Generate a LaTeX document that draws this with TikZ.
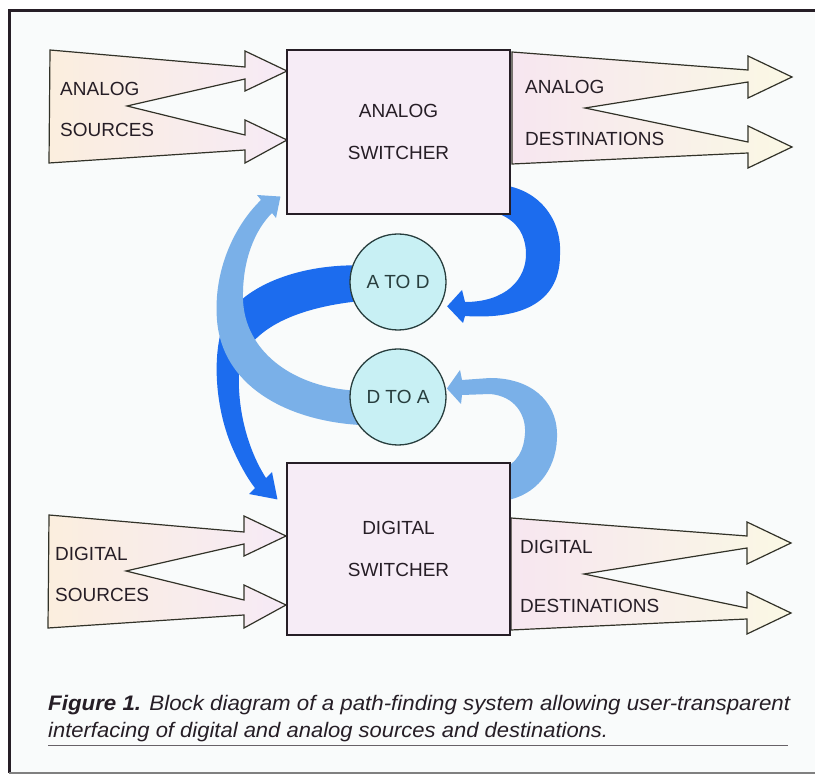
\documentclass[tikz,border=0pt]{standalone}
\usepackage{fontspec}
\setmainfont{Liberation Sans}
\usepackage{graphicx}
\usetikzlibrary{positioning,calc}
\pgfdeclarelayer{bg}
\pgfsetlayers{bg,main}
\definecolor{boxfill}{RGB}{246,236,246}
\definecolor{convfill}{RGB}{200,240,244}
\definecolor{convline}{RGB}{40,62,62}
\definecolor{darkband}{RGB}{28,108,238}
\definecolor{lightband}{RGB}{122,176,232}
\definecolor{srcleft}{RGB}{251,238,222}
\definecolor{srcright}{RGB}{246,234,246}
\definecolor{dstleft}{RGB}{247,230,240}
\definecolor{dstright}{RGB}{250,248,228}
\definecolor{inktext}{RGB}{38,30,38}
\definecolor{fanline}{RGB}{50,50,40}
\definecolor{pagebg}{RGB}{249,251,251}
\tikzset
{
    switcher/.style  = {rectangle, draw=inktext, fill=boxfill, line width=1.1pt, minimum width=223pt, align=center, font=\fontsize{19}{42}\selectfont, text=inktext},
    converter/.style = {circle, draw=convline, fill=convfill, line width=1.3pt, minimum size=96pt, inner sep=0pt, font=\fontsize{19}{23}\selectfont, text=convline},
    fanlabel/.style  = {anchor=west, inner sep=0pt, font=\fontsize{19}{23}\selectfont, text=inktext},
    srcfan/.style    = {draw=fanline, line width=1.2pt, left color=srcleft, right color=srcright},
    dstfan/.style    = {draw=fanline, line width=1.2pt, left color=dstleft, right color=dstright},
    darkarrow/.style = {fill=darkband},
    lightarrow/.style= {fill=lightband}
}
\newcommand{\infan}{(50,50) -- (245,67) -- (245,51) -- (287,71) -- (245,91) -- (245,79) -- (127,106) -- (245,135) -- (245,120) -- (287,140) -- (245,163) -- (245,150) -- (49,163) -- cycle}
\newcommand{\outfan}{(512,52) -- (748,70) -- (748,56) -- (792,77) -- (748,98) -- (748,82) -- (585,108) -- (748,142) -- (748,126) -- (792,147) -- (748,168) -- (748,153) -- (512,164) -- cycle}

\begin{document}
\begin{tikzpicture}[x=1pt, y=-1pt]
\useasboundingbox (0,0) rectangle (815,775);

\node (asw)[switcher, minimum height=164pt]  at (398.5,132) {ANALOG\\SWITCHER};
\node (dsw)[switcher, minimum height=172pt]  at (398.5,549) {DIGITAL\\SWITCHER};
\node (atod)[converter]                      at (398,282)   {A TO D};
\node (dtoa)[converter]                      at (398,397)   {D TO A};

\node (asrca)[fanlabel] at (60,89)   {ANALOG};
\node (asrcb)[fanlabel] at (60,130)  {SOURCES};
\node (adsta)[fanlabel] at (525,87)  {ANALOG};
\node (adstb)[fanlabel] at (525,139) {DESTINATIONS};
\node (dsrca)[fanlabel] at (55,554)  {DIGITAL};
\node (dsrcb)[fanlabel] at (55,595)  {SOURCES};
\node (ddsta)[fanlabel] at (520,547) {DIGITAL};
\node (ddstb)[fanlabel] at (520,606) {DESTINATIONS};

\begin{pgfonlayer}{bg}
\fill[white] (0,0) rectangle (815,775);
\fill[pagebg] (9,11) rectangle (815,773);

% source and destination fans
\draw[srcfan] \infan;
\draw[dstfan] \outfan;
\begin{scope}[shift={(-1,465)}]
  \draw[srcfan] \infan;
\end{scope}
\begin{scope}[shift={(-1,466)}]
  \draw[dstfan] \outfan;
\end{scope}

% analog switcher -> A to D
\fill[darkarrow] ($(asw.south east)+(0,-28)$) .. controls (545,195) and (562,225) .. (560,255)
  .. controls (560,300) and (525,320) .. (465,316) -- (463,323) -- ($(atod.-30)+(7,0)$) -- (462,290) -- (465,302)
  .. controls (505,302) and (527,280) .. (526,252) .. controls (525,235) and (518,222) .. ($(asw.south east)+(-10,0)$) -- cycle;
% digital switcher -> D to A
\fill[lightarrow] ($(dsw.north east)+(0,37)$) .. controls (540,492) and (558,465) .. (557,433)
  .. controls (556,400) and (530,378) .. (490,378) -- (462,380) -- (460,370) -- ($(dtoa.10)+(1,0)$) -- (461,404) -- (462,395) -- (490,394)
  .. controls (515,396) and (526,415) .. (525,433) .. controls (524,450) and (518,463) .. (500,470) -- cycle;
% A to D -> digital switcher
\fill[darkarrow] (atod.160) .. controls (290,266) and (240,290) .. (225,320)
  .. controls (212,350) and (214,405) .. (232,447) .. controls (239,463) and (247,478) .. (255,488)
  -- (249,494) -- ($(dsw.north west)+(-9,37)$) -- (272,472) -- (266,478)
  .. controls (248,450) and (237,410) .. (239,370) .. controls (245,335) and (285,310) .. (atod.204) -- cycle;
% D to A -> analog switcher
\fill[lightarrow] (dtoa.215) .. controls (285,420) and (222,385) .. (217,320)
  .. controls (213,270) and (235,225) .. (261,200) -- (257,195) -- ($(asw.south west)+(-6,-18)$) -- (276,218) -- (272,213)
  .. controls (255,230) and (242,260) .. (243,300) .. controls (245,350) and (290,385) .. (dtoa.172) -- cycle;
\end{pgfonlayer}

% frame
\draw[line width=3pt, inktext] (815,11) -- (9,11) -- (9,773);
\draw[line width=1.5pt, gray] (9,773) -- (815,773);

% caption
\node (capa)[anchor=base west, inner sep=0pt, text=inktext] at (48,710)
  {\resizebox{742pt}{\height}{\fontsize{21}{25}\selectfont\itshape\textbf{Figure 1.} Block diagram of a path-finding system allowing user-transparent}};
\node (capb)[anchor=base west, inner sep=0pt, text=inktext] at (48,737)
  {\resizebox{560pt}{\height}{\fontsize{21}{25}\selectfont\itshape interfacing of digital and analog sources and destinations.}};
\draw[line width=0.8pt, inktext!70] (48,745) -- (788,745);
\end{tikzpicture}
\end{document}
